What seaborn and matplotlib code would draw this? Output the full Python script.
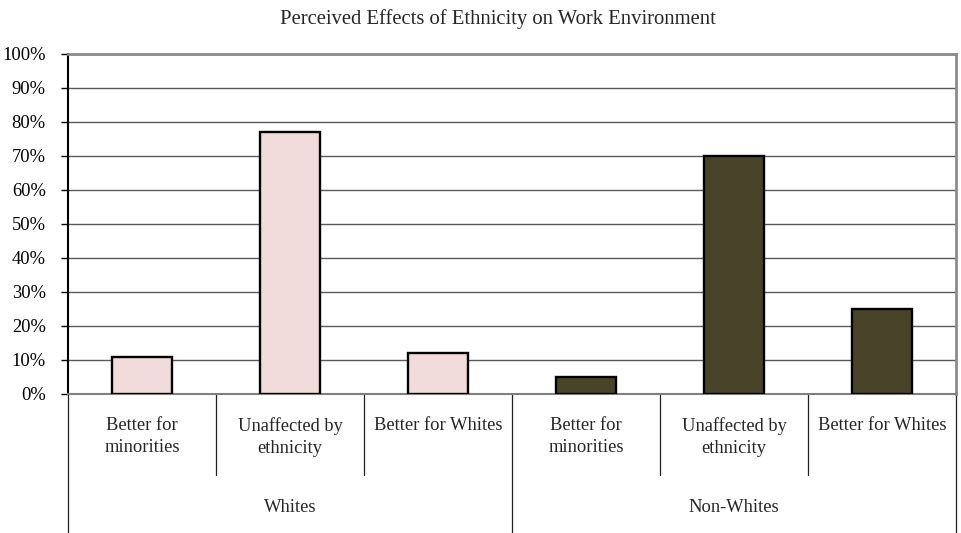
import matplotlib
matplotlib.use("Agg")
import matplotlib.pyplot as plt
import matplotlib.transforms as mtransforms
import pandas as pd
import seaborn as sns

# Survey shares (percent) by respondent group
groups = ["Whites", "Non-Whites"]
responses = ["Better for\nminorities", "Unaffected by\nethnicity", "Better for Whites"]
whites_pct = [11, 77, 12]
nonwhites_pct = [5, 70, 25]
group_colors = {"Whites": "#F2DCDB", "Non-Whites": "#494429"}
y_ticks = list(range(0, 101, 10))

rows = []
for g, vals in zip(groups, [whites_pct, nonwhites_pct]):
    for r, v in zip(responses, vals):
        rows.append({"group": g, "response": r, "key": f"{g}|{r}", "pct": v})
df = pd.DataFrame(rows)

sns.set_theme(style="white")
plt.rcParams["font.family"] = ["Liberation Serif", "DejaVu Serif"]
plt.rcParams["font.size"] = 13

W, H = 961, 533
fig = plt.figure(figsize=(W / 100, H / 100), dpi=100)
left, right, top, bottom = 68, 956, 54, 394
ax = fig.add_axes([left / W, 1 - bottom / H, (right - left) / W, (bottom - top) / H])

sns.barplot(data=df, x="key", y="pct", hue="group", palette=group_colors,
            saturation=1, dodge=False, width=0.4, edgecolor="black",
            linewidth=1.7, legend=False, ax=ax, zorder=3)

ax.set_xlim(-0.5, len(df) - 0.5)
ax.set_ylim(0, 100)
ax.set_yticks(y_ticks)
ax.set_yticklabels([f"{t}%" for t in y_ticks], fontsize=13.3, color="black")
ax.yaxis.grid(True, color="#5a5a5a", linewidth=1.0, zorder=0)
ax.set_xticks([])
ax.set_xlabel("")
ax.set_ylabel("")
ax.tick_params(axis="y", which="major", left=True, length=5, width=1.0,
               color="black", pad=11)

ax.spines["left"].set_color("black")
ax.spines["left"].set_linewidth(1.5)
ax.spines["bottom"].set_color("#808080")
ax.spines["bottom"].set_linewidth(1.5)
ax.spines["top"].set_color("#8c8c8c")
ax.spines["top"].set_linewidth(2.0)
ax.spines["right"].set_color("#8c8c8c")
ax.spines["right"].set_linewidth(2.0)

# Two-level category axis below the plot
trans = mtransforms.blended_transform_factory(ax.transData, ax.transAxes)
span = bottom - top
inner_end = -(475 - bottom) / span
outer_end = -(H - bottom) / span
n_resp = len(responses)
for i in range(len(df) + 1):
    xb = i - 0.5
    end = outer_end if i % n_resp == 0 else inner_end
    ax.plot([xb, xb], [0, end], transform=trans, color="#202020",
            linewidth=0.9, clip_on=False)

label_top = -(417 - bottom) / span
for i, r in enumerate(df["response"]):
    ax.text(i, label_top, r, transform=trans, ha="center", va="top",
            fontsize=13.3, linespacing=1.38)

group_y = -(507 - bottom) / span
for gi, g in enumerate(groups):
    ax.text(gi * n_resp + (n_resp - 1) / 2, group_y, g, transform=trans,
            ha="center", va="center", fontsize=13.3)

fig.text(498 / W, 1 - 19 / H, "Perceived Effects of Ethnicity on Work Environment",
         ha="center", va="center", fontsize=14.9)

fig.savefig("out.png", dpi=100)
